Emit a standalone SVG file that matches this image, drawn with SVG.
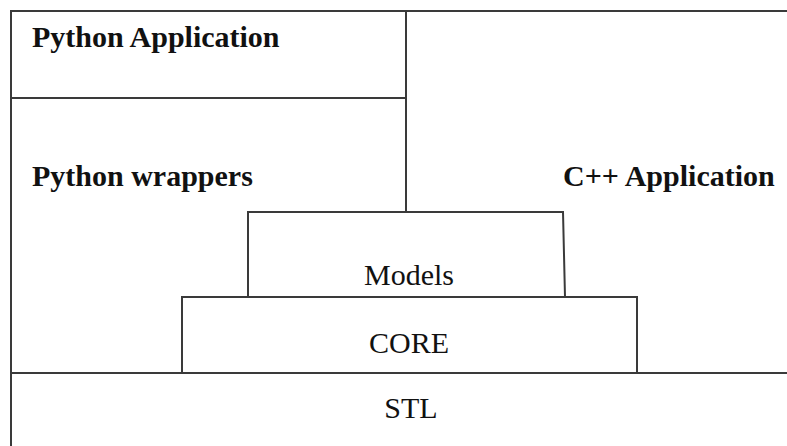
<svg xmlns="http://www.w3.org/2000/svg" width="787" height="446" viewBox="0 0 787 446">
<style>
.ln{stroke:#3a3a3a;stroke-width:2;fill:none}
.b{font-family:"Liberation Serif","Times New Roman",serif;font-size:30px;font-weight:bold;fill:#111}
.r{font-family:"Liberation Serif","Times New Roman",serif;font-size:30px;fill:#111;text-anchor:middle}
</style>
<rect width="787" height="446" fill="#fff"/>
<g id="python-application">
<text class="b" x="32" y="47">Python Application</text>
</g>
<g id="python-wrappers">
<text class="b" x="32" y="186">Python wrappers</text>
</g>
<g id="cpp-application">
<text class="b" x="563" y="186">C++ Application</text>
</g>
<g id="models">
<path class="ln" d="M248,297 V212 H563 L565,297"/>
<text class="r" x="409" y="285">Models</text>
</g>
<g id="core">
<path class="ln" d="M182,373 V297 H637 V373"/>
<text class="r" x="409" y="353">CORE</text>
</g>
<g id="stl">
<text class="r" x="411" y="418">STL</text>
</g>
<g id="connectors">
<path class="ln" d="M11,446 V11 H787"/>
<path class="ln" d="M11,98 H406"/>
<path class="ln" d="M406,11 V212"/>
<path class="ln" d="M11,373 H787"/>
</g>
</svg>
